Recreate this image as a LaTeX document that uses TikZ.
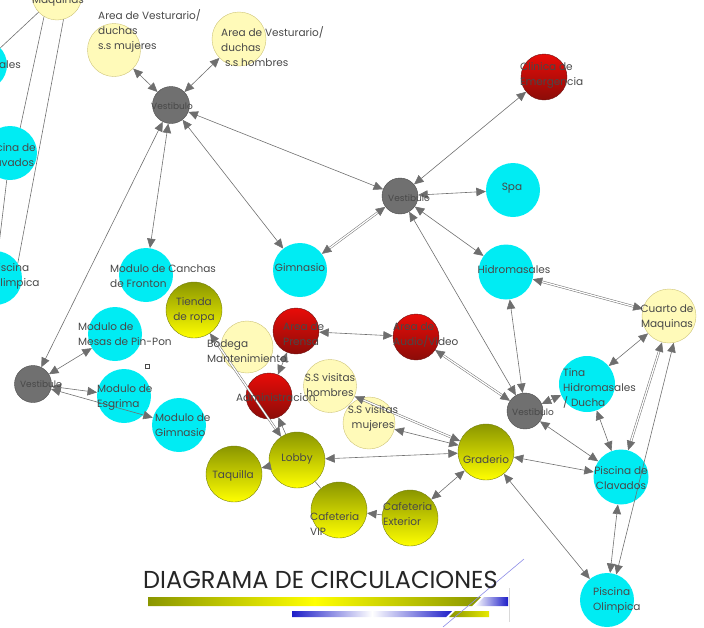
\documentclass[tikz,border=0pt]{standalone}
\usepackage{fontspec}
\setmainfont{Poppins}
\usetikzlibrary{arrows.meta}
\definecolor{cyanC}{RGB}{0,236,243}
\definecolor{vgray}{RGB}{112,112,112}
\definecolor{vgrayd}{RGB}{75,75,75}
\definecolor{redA}{RGB}{232,12,8}
\definecolor{redB}{RGB}{140,12,8}
\definecolor{redD}{RGB}{110,20,20}
\definecolor{oliveA}{RGB}{138,150,0}
\definecolor{yellowB}{RGB}{255,255,0}
\definecolor{oliveD}{RGB}{120,130,20}
\definecolor{paleY}{RGB}{255,250,185}
\definecolor{paleD}{RGB}{205,195,120}
\definecolor{txtC}{RGB}{72,72,72}
\definecolor{lineC}{RGB}{112,112,112}
\definecolor{tipC}{RGB}{110,110,110}
\definecolor{barBlue}{RGB}{30,30,200}
\definecolor{slash}{RGB}{140,140,230}
\begin{document}
\begin{tikzpicture}[x=1pt,y=-1pt,
  circ/.style={circle,inner sep=0pt,minimum size=#1},
  cy/.style={circ=#1,fill=cyanC},
  gr/.style={circ=#1,fill=vgray,draw=vgrayd,line width=0.4pt},
  rd/.style={circ=#1,top color=redA,bottom color=redB,draw=redD,line width=0.4pt},
  ol/.style={circ=#1,top color=oliveA,bottom color=yellowB,draw=oliveD,line width=0.4pt},
  pa/.style={circ=#1,fill=paleY,draw=paleD,line width=0.4pt},
  lbl/.style={inner sep=0pt,text=txtC,font=\fontsize{10.5}{15}\selectfont},
  lbll/.style={lbl,align=left,anchor=west},
  lblc/.style={lbl,align=center},
  tip/.tip={Triangle[length=9.5pt,width=8.5pt,fill=tipC]},
  conn/.style={draw=lineC,line width=0.6pt},
  bi/.style={conn,tip-tip},
  one/.style={conn,-tip},
  dbl/.style={draw=lineC,line width=0.5pt,double=white,double distance=1.3pt,tip-tip},
  plain/.style={conn}]
\useasboundingbox (0,0) rectangle (704,627);
\clip (0,0) rectangle (704,627);
% ---- partial nodes at the left edge
\node[pa=50pt] (cml) at (57,-5) {};
\node[cy=50pt] (hl) at (-18,65) {};
\node[cy=54pt] (pcl) at (10,153) {};
\node[cy=54pt] (pol) at (-5,278) {};
% ---- main nodes
\node[gr=37pt] (v1) at (171,105) {};
\node[pa=53pt] (mujeres) at (114,50) {};
\node[pa=54pt] (hombres) at (239,39) {};
\node[gr=36pt] (v2) at (400,196) {};
\node[rd=46pt] (clinica) at (544,77) {};
\node[cy=54pt] (spa) at (513,190) {};
\node[cy=54pt] (gim) at (300,270) {};
\node[cy=55pt] (hid) at (506,272) {};
\node[pa=54pt] (cuarto) at (669,316) {};
\node[rd=46pt] (audio) at (416,337) {};
\node[gr=36pt] (v3) at (525,411) {};
\node[cy=56pt] (tina) at (587,384) {};
\node[cy=55pt] (clav) at (621,477) {};
\node[cy=54pt] (olim) at (607,600) {};
\node[ol=56pt] (grad) at (486,452) {};
\node[ol=56pt] (cafext) at (410,518) {};
\node[ol=56pt] (cafvip) at (339,510) {};
\node[ol=56pt] (lobby) at (297,460) {};
\node[ol=56pt] (taq) at (234,474) {};
\node[rd=46pt] (adm) at (269,396) {};
\node[rd=46pt] (prensa) at (296,331) {};
\node[pa=52pt] (bodega) at (247,347) {};
\node[pa=53pt] (ssh) at (330,386) {};
\node[pa=52pt] (ssm) at (369,423) {};
\node[ol=56pt] (tienda) at (194,310) {};
\node[cy=54pt] (canchas) at (146,275) {};
\node[cy=54pt] (pinpon) at (115,334) {};
\node[gr=37pt] (v4) at (33,384) {};
\node[cy=54pt] (esgrima) at (124,396) {};
\node[cy=54pt] (modgim) at (179,425) {};
\node[draw=vgrayd,line width=0.5pt,inner sep=0pt,minimum size=4pt] (sq) at (147,366) {};
% ---- connectors at the left edge
\coordinate (offT) at (-30,95);
\draw[plain] (cml) -- (hl);
\draw[plain] (cml.-121) -- (pcl.68);
\draw[plain] (cml.-75) -- (pol.33);
\draw[plain] (pcl) -- (pol);
\draw[plain] (offT) -- (pcl);
% ---- connectors
\draw[bi] (v1) -- (mujeres);
\draw[bi] (v1) -- (hombres);
\draw[bi] (v1) -- (v2);
\draw[bi] (v1) -- (gim);
\draw[bi] (v1) -- (canchas);
\draw[bi] (v1) -- (v4);
\draw[bi] (v2) -- (clinica);
\draw[bi] (v2) -- (spa);
\draw[dbl] (v2) -- (gim);
\draw[bi] (v2) -- (hid);
\draw[bi] (v2) -- (v3);
\draw[bi] (hid) -- (v3);
\draw[dbl] (hid) -- (cuarto);
\draw[bi] (cuarto) -- (tina);
\draw[dbl] (cuarto.-105) -- (clav.75);
\draw[bi] (cuarto.-80) -- (olim.70);
\draw[bi] (tina) -- (v3);
\draw[bi] (tina) -- (clav);
\draw[bi] (v3) -- (clav);
\draw[dbl] (audio) -- (v3);
\draw[bi] (prensa) -- (audio);
\draw[bi] (prensa) -- (adm);
\draw[one] (lobby) -- (adm);
\draw[one] (lobby) -- (taq);
\draw[bi] (lobby) -- (grad);
\draw[plain] (lobby) -- (cafvip);
\draw[one] (cafext) -- (cafvip);
\draw[bi] (grad) -- (cafext);
\draw[dbl] (grad) -- (ssh);
\draw[bi] (grad) -- (ssm);
\draw[bi] (grad) -- (clav);
\draw[bi] (grad) -- (olim);
\draw[bi] (clav) -- (olim);
\draw[dbl] (tienda) -- (lobby);
\draw[bi] (v4) -- (pinpon);
\draw[bi] (v4) -- (esgrima);
\draw[bi] (v4) -- (modgim);
% ---- labels
\node[lblc] (cmlL) at (58,-7) {Cuarto de\\Maquinas};
\node[lbl,anchor=east] (hlL) at (21,65) {Hidromasales};
\node[lblc] (pclL) at (9,155) {Piscina de\\Clavados};
\node[lbll] (polL) at (-8,276) {Piscina\\Olimpica};
\node[lbl,font=\fontsize{9}{15}\selectfont] (v1L) at (172,106) {Vestibulo};
\node[lbll] (mujeresL) at (98,31) {Area de Vesturario/\\duchas\\s.s mujeres};
\node[lbll] (hombresL) at (221,47) {Area de Vesturario/\\duchas\\\hspace*{4pt}s.s hombres};
\node[lbl,font=\fontsize{9}{15}\selectfont] (v2L) at (409,198) {Vestibulo};
\node[lbll] (clinicaL) at (520,75) {Clinica de\\Emergencia};
\node[lblc] (spaL) at (512,188) {Spa};
\node[lblc] (gimL) at (300,268) {Gimnasio};
\node[lblc] (hidL) at (514,270) {Hidromasales};
\node[lblc] (cuartoL) at (667,317) {Cuarto de\\Maquinas};
\node[lbll] (audioL) at (393,335) {Area de\\Audio/Video};
\node[lbl,font=\fontsize{9}{15}\selectfont] (v3L) at (533,412) {Vestibulo};
\node[lbll] (tinaL) at (563,388) {Tina\\Hidromasales\\/ Ducha};
\node[lblc] (clavL) at (621,478) {Piscina de\\Clavados};
\node[lbll] (olimL) at (593,600) {Piscina\\Olimpica};
\node[lblc] (gradL) at (486,460) {Graderio};
\node[lbll] (cafextL) at (383,514) {Cafeteria\\Exterior};
\node[lbll] (cafvipL) at (310,524) {Cafeteria\\VIP};
\node[lblc] (lobbyL) at (297,459) {Lobby};
\node[lblc] (taqL) at (233,476) {Taquilla};
\node[lblc] (admL) at (277,398) {Administracion.};
\node[lbll] (prensaL) at (283,334) {Area de\\Prensa};
\node[lbll] (bodegaL) at (207,351) {Bodega\\Mantenimiento.};
\node[lblc] (sshL) at (330,385) {S.S visitas\\hombres};
\node[lblc] (ssmL) at (373,418) {S.S visitas\\mujeres};
\node[lblc] (tiendaL) at (194,310) {Tienda\\de ropa};
\node[lbll] (canchasL) at (110,276) {Modulo de Canchas\\de Fronton};
\node[lbll] (pinponL) at (78,334) {Modulo de\\Mesas de Pin-Pon};
\node[lbl,font=\fontsize{9}{15}\selectfont] (v4L) at (41,384) {Vestibulo};
\node[lbll] (esgrimaL) at (97,398) {Modulo de\\Esgrima};
\node[lbll] (modgimL) at (155,425) {Modulo de\\Gimnasio};
% ---- title block
\shade[left color=oliveA,right color=oliveA,middle color=yellowB]
  (148,597) -- (481,597) -- (472,606) -- (148,606) -- cycle;
\shade[left color=white,right color=barBlue]
  (484,597) -- (508,597) -- (508,606) -- (475,606) -- cycle;
\shade[left color=barBlue,right color=barBlue,middle color=white]
  (292,611) -- (452,611) -- (446,617) -- (292,617) -- cycle;
\shade[left color=oliveA,right color=yellowB!80!oliveA]
  (455,611) -- (489,611) -- (489,617) -- (449,617) -- cycle;
\draw[slash,line width=0.6pt] (524,559) -- (443,627);
\draw[black!15,line width=0.4pt] (509,588) -- (509,622);
\node[inner sep=0pt,anchor=west,text=black!85] (title) at (143,580)
  {\scalebox{0.98}[1]{\fontsize{24.5}{25}\selectfont DIAGRAMA DE CIRCULACIONES}};
\end{tikzpicture}
\end{document}
